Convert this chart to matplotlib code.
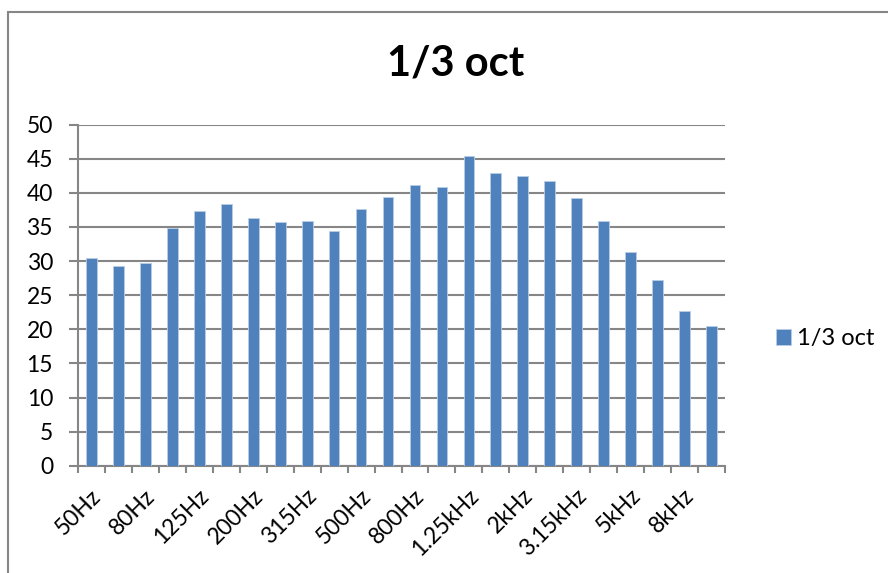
import matplotlib
matplotlib.use("Agg")
import matplotlib.pyplot as plt
import matplotlib.transforms as mtransforms
import numpy as np
from matplotlib.patches import Rectangle

bands = ["50Hz", "63Hz", "80Hz", "100Hz", "125Hz", "160Hz", "200Hz", "250Hz",
         "315Hz", "400Hz", "500Hz", "630Hz", "800Hz", "1kHz", "1.25kHz", "1.6kHz",
         "2kHz", "2.5kHz", "3.15kHz", "4kHz", "5kHz", "6.3kHz", "8kHz", "10kHz"]
levels = [30.4, 29.3, 29.7, 34.9, 37.3, 38.3, 36.3, 35.7, 35.9, 34.4, 37.7, 39.4,
          41.2, 40.9, 45.4, 42.9, 42.5, 41.7, 39.2, 35.9, 31.4, 27.3, 22.7, 20.5]
series_name = "1/3 oct"
yticks = [0, 5, 10, 15, 20, 25, 30, 35, 40, 45, 50]

W, H = 888, 573
plt.rcParams['font.family'] = ['Lato', 'DejaVu Sans']
fig = plt.figure(figsize=(W / 100, H / 100), dpi=100)
ax = fig.add_axes([78 / W, 1 - 465.7 / H, (725 - 78) / W, (465.7 - 124.7) / H])

grid_c = '#868686'
bar_c = '#4F81BD'
fs = 16.5

x = np.arange(len(bands))
ax.bar(x, levels, width=0.4, color=bar_c, edgecolor='#B9CDE5', linewidth=0.6,
       zorder=3, label=series_name)

ax.set_xlim(-0.5, len(bands) - 0.5)
ax.set_ylim(0, 50)
ax.set_yticks(yticks)
ax.set_yticklabels([str(v) for v in yticks], fontsize=fs)
ax.yaxis.grid(True, color=grid_c, linewidth=1.5, zorder=0)

ax.set_xticks(x[::2])
ax.set_xticklabels(bands[::2], rotation=45, ha='right', va='top',
                   rotation_mode='anchor', fontsize=fs)
ax.tick_params(axis='x', which='major', length=0, pad=14)
shift = mtransforms.ScaledTranslation(-1 / 100, 0, fig.dpi_scale_trans)
for lab in ax.get_xticklabels():
    lab.set_transform(lab.get_transform() + shift)
ax.set_xticks(np.arange(len(bands) + 1) - 0.5, minor=True)
ax.tick_params(axis='x', which='minor', length=5, width=1.5, color=grid_c,
               direction='out')
ax.tick_params(axis='y', length=6.5, width=1.5, color=grid_c, direction='out', pad=11.5)

for s in ['top', 'right']:
    ax.spines[s].set_visible(False)
for s in ['left', 'bottom']:
    ax.spines[s].set_color(grid_c)
    ax.spines[s].set_linewidth(1.5)

fig.text(456 / W, 1 - 64 / H, series_name, ha='center', va='center',
         fontsize=30, fontweight='bold')

leg = fig.legend(loc='center left', bbox_to_anchor=(776 / W, 1 - 339 / H),
                 frameon=False, fontsize=17, handlelength=0.64, handleheight=0.64,
                 handletextpad=0.25, borderaxespad=0, borderpad=0)

fig.patches.append(Rectangle((8 / W, -0.1), 1.2, 1 - 12 / H + 0.1,
                             transform=fig.transFigure, fill=False,
                             edgecolor=grid_c, linewidth=1.5))

fig.savefig("out.png", dpi=100)
